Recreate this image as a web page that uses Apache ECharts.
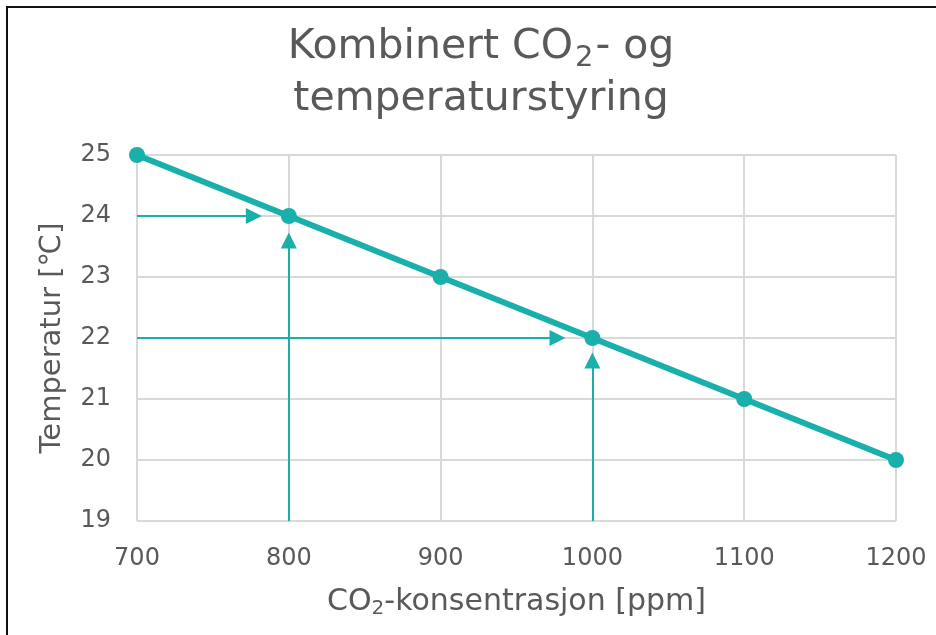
<!DOCTYPE html>
<html>
<head>
<meta charset="utf-8">
<title>Kombinert CO2- og temperaturstyring</title>
<script src="https://cdn.jsdelivr.net/npm/echarts@6/dist/echarts.min.js"></script>
<style>
  html, body { margin: 0; padding: 0; background: #fff; }
  #frame {
    position: absolute; left: 6px; top: 6px; right: 0; bottom: 0;
    border-left: 2px solid #111; border-top: 2px solid #111;
  }
  #chart { position: absolute; left: 0; top: 0; width: 936px; height: 635px; }
</style>
</head>
<body>
<div id="frame"></div>
<div id="chart"></div>
<script>
// CO2 (ppm) mot temperatur (°C)
const co2Values = [700, 800, 900, 1000, 1100, 1200]
const tempValues = [25, 24, 23, 22, 21, 20]

// hjelpepiler: [fra, til]
const guideArrows = [
  [[700, 24], [777, 24]],
  [[800, 19], [800, 23.6]],
  [[700, 22], [977, 22]],
  [[1000, 19], [1000, 21.63]]
]

const teal = '#19AFAA'
const grey = '#595959'
const font = 'DejaVu Sans, Verdana, sans-serif'

const chart = echarts.init(document.getElementById('chart'))

chart.setOption({
  animation: false,
  title: {
    text: '{t|Kombinert CO}{s|2}{t|- og}\n{t|temperaturstyring}',
    left: 476,
    top: 16,
    textAlign: 'center',
    textStyle: {
      rich: {
        t: { fontFamily: font, fontSize: 41, fontWeight: 'normal', color: grey, lineHeight: 52 },
        s: { fontFamily: font, fontSize: 29, fontWeight: 'normal', color: grey, lineHeight: 52, padding: [22, 2, 0, 2] }
      }
    }
  },
  grid: { left: 137, right: 40, top: 155, bottom: 114 },
  xAxis: {
    type: 'value',
    min: 700,
    max: 1200,
    interval: 100,
    axisLine: { show: false },
    axisTick: { show: false },
    splitLine: { lineStyle: { color: '#D9D9D9', width: 2 } },
    axisLabel: { color: grey, fontFamily: font, fontSize: 24, margin: 26, formatter: v => String(v) },
    name: '{t|CO}{s|2}{t|-konsentrasjon [ppm]}',
    nameLocation: 'middle',
    nameGap: 64,
    nameTextStyle: {
      rich: {
        t: { fontFamily: font, fontSize: 30, color: grey },
        s: { fontFamily: font, fontSize: 20, color: grey, padding: [14, 0, 0, 0] }
      }
    }
  },
  yAxis: {
    type: 'value',
    min: 19,
    max: 25,
    interval: 1,
    axisLine: { show: false },
    axisTick: { show: false },
    splitLine: { lineStyle: { color: '#D9D9D9', width: 2 } },
    axisLabel: { color: grey, fontFamily: font, fontSize: 24, margin: 26 },
    name: 'Temperatur [℃]',
    nameLocation: 'middle',
    nameGap: 70,
    nameTextStyle: { fontFamily: font, fontSize: 29, color: grey }
  },
  series: [
    {
      type: 'lines',
      coordinateSystem: 'cartesian2d',
      symbol: ['none', 'triangle'],
      symbolSize: [15, 16],
      lineStyle: { color: teal, width: 2, opacity: 1, curveness: 0 },
      data: guideArrows.map(a => ({ coords: a })),
      z: 2
    },
    {
      type: 'line',
      data: co2Values.map((x, i) => [x, tempValues[i]]),
      symbol: 'circle',
      symbolSize: 16,
      lineStyle: { color: teal, width: 6 },
      itemStyle: { color: teal },
      z: 3
    }
  ]
})
</script>
</body>
</html>
